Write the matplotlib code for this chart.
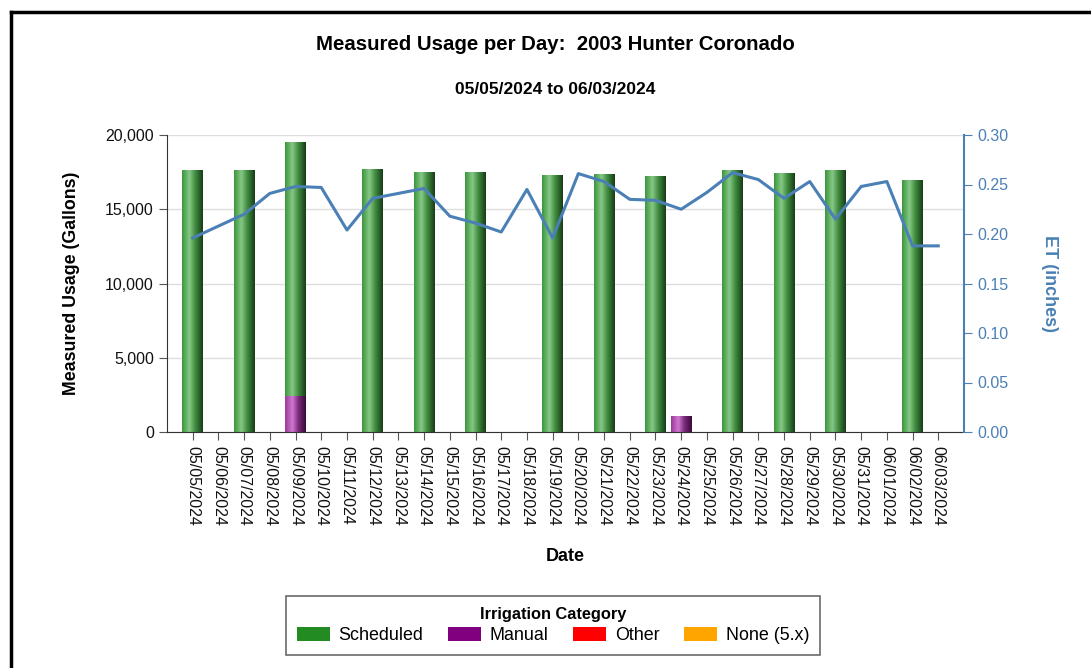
import matplotlib
matplotlib.use("Agg")
import matplotlib.pyplot as plt
import numpy as np
from matplotlib.patches import Patch
from matplotlib.lines import Line2D
from matplotlib.colors import LinearSegmentedColormap

plt.rcParams['font.family'] = ['Liberation Sans', 'DejaVu Sans']

dates = ["05/05/2024", "05/06/2024", "05/07/2024", "05/08/2024", "05/09/2024", "05/10/2024",
         "05/11/2024", "05/12/2024", "05/13/2024", "05/14/2024", "05/15/2024", "05/16/2024",
         "05/17/2024", "05/18/2024", "05/19/2024", "05/20/2024", "05/21/2024", "05/22/2024",
         "05/23/2024", "05/24/2024", "05/25/2024", "05/26/2024", "05/27/2024", "05/28/2024",
         "05/29/2024", "05/30/2024", "05/31/2024", "06/01/2024", "06/02/2024", "06/03/2024"]
manual = [0, 0, 0, 0, 2450, 0, 0, 0, 0, 0, 0, 0, 0, 0, 0, 0, 0, 0, 0, 1080, 0, 0, 0, 0, 0, 0, 0, 0, 0, 0]
scheduled = [17650, 0, 17620, 0, 17100, 0, 0, 17690, 0, 17530, 0, 17510, 0, 0, 17310, 0, 17350, 0,
             17260, 0, 0, 17640, 0, 17420, 0, 17660, 0, 0, 16990, 0]
et = [0.196, 0.208, 0.220, 0.241, 0.248, 0.247, 0.204, 0.236, 0.241, 0.246, 0.218, 0.211,
      0.202, 0.245, 0.196, 0.261, 0.253, 0.235, 0.234, 0.225, 0.242, 0.262, 0.255, 0.236,
      0.253, 0.215, 0.248, 0.253, 0.188, 0.188]
legend_labels = ["Scheduled", "Manual", "Other", "None (5.x)"]
legend_colors = ["#228b22", "#800080", "#ff0000", "#ffa500"]

W, H = 1091, 668
fig = plt.figure(figsize=(W / 100, H / 100), dpi=100)
ax = fig.add_axes([167 / W, 1 - 432 / H, (964 - 167) / W, (432 - 135) / H])

x = np.arange(len(dates))
bw = 0.8
bars_m = ax.bar(x, manual, width=bw, color="#800080", zorder=2)
bars_s = ax.bar(x, scheduled, width=bw, bottom=manual, color="#228b22", zorder=2)

green_cmap = LinearSegmentedColormap.from_list("g", [(0, "#3c963c"), (0.35, "#86c886"),
                                                     (0.65, "#3e8a3e"), (1, "#183c18")])
purple_cmap = LinearSegmentedColormap.from_list("p", [(0, "#9a3a9a"), (0.35, "#cf78cf"),
                                                      (0.65, "#7a2a7a"), (1, "#3a0a3a")])
grad = np.linspace(0, 1, 64).reshape(1, -1)
for bars, cmap in ((bars_s, green_cmap), (bars_m, purple_cmap)):
    for p in bars:
        if p.get_height() <= 0:
            continue
        x0, y0 = p.get_x(), p.get_y()
        im = ax.imshow(grad, cmap=cmap, extent=[x0, x0 + p.get_width(), y0, y0 + p.get_height()],
                       aspect="auto", zorder=2.5, interpolation="bilinear")
        im.set_clip_path(p)

ax.set_xlim(-1, len(dates))
ax.set_ylim(0, 20000)
ax.set_yticks([0, 5000, 10000, 15000, 20000])
ax.set_yticklabels(["0", "5,000", "10,000", "15,000", "20,000"])
ax.set_xticks(x)
ax.set_xticklabels(dates, rotation=-90)
ax.grid(axis="y", color="#dedede", lw=1, zorder=0)
ax.set_axisbelow(True)
for s in ("top", "right"):
    ax.spines[s].set_visible(False)
ax.spines["left"].set_color("#333333")
ax.spines["bottom"].set_color("#333333")
ax.tick_params(axis="both", labelsize=11.5, length=6, color="#555555", labelcolor="#111111")
ax.tick_params(axis="x", pad=4)
ax.set_ylabel("Measured Usage (Gallons)", fontsize=12.8, fontweight="bold", labelpad=18)
ax.set_xlabel("Date", fontsize=13, fontweight="bold", labelpad=16)

ax2 = ax.twinx()
etc = "#4a80b5"
ax2.plot(x, et, color=etc, lw=2.2, zorder=5)
ax2.set_ylim(0, 0.30)
ax2.set_yticks([0, 0.05, 0.10, 0.15, 0.20, 0.25, 0.30])
ax2.set_yticklabels(["0.00", "0.05", "0.10", "0.15", "0.20", "0.25", "0.30"])
for s in ("top", "left", "bottom"):
    ax2.spines[s].set_visible(False)
ax2.spines["right"].set_color(etc)
ax2.spines["right"].set_linewidth(1.5)
ax2.tick_params(axis="y", labelsize=11.5, length=6, color=etc, labelcolor=etc)
ax2.set_ylabel("ET (inches)", fontsize=13, fontweight="bold", color=etc, rotation=-90, labelpad=36)

fig.text(555 / W, 1 - 44 / H, "Measured Usage per Day:  2003 Hunter Coronado", ha="center", va="center",
         fontsize=14.7, fontweight="bold")
fig.text(555 / W, 1 - 89 / H, "05/05/2024 to 06/03/2024", ha="center", va="center",
         fontsize=12.5, fontweight="bold")

handles = [Patch(facecolor=c, edgecolor="none") for c in legend_colors]
leg = fig.legend(handles, legend_labels, ncol=4, loc="center", bbox_to_anchor=(553 / W, 1 - 625.5 / H),
                 title="Irrigation Category", fontsize=12.9, frameon=True, fancybox=False,
                 edgecolor="#444444", handlelength=1.85, handleheight=0.8, columnspacing=1.35,
                 borderpad=0.6, handletextpad=0.5, labelspacing=0.3)
leg.get_title().set_fontweight("bold")
leg.get_title().set_fontsize(11.8)
leg.get_frame().set_linewidth(1.2)

fig.add_artist(Line2D([11 / W, 11 / W], [0, 1 - 12 / H], color="black", lw=2.5, transform=fig.transFigure))
fig.add_artist(Line2D([11 / W, 1], [1 - 12 / H, 1 - 12 / H], color="black", lw=2.5, transform=fig.transFigure))

fig.savefig("out.png", dpi=100)
